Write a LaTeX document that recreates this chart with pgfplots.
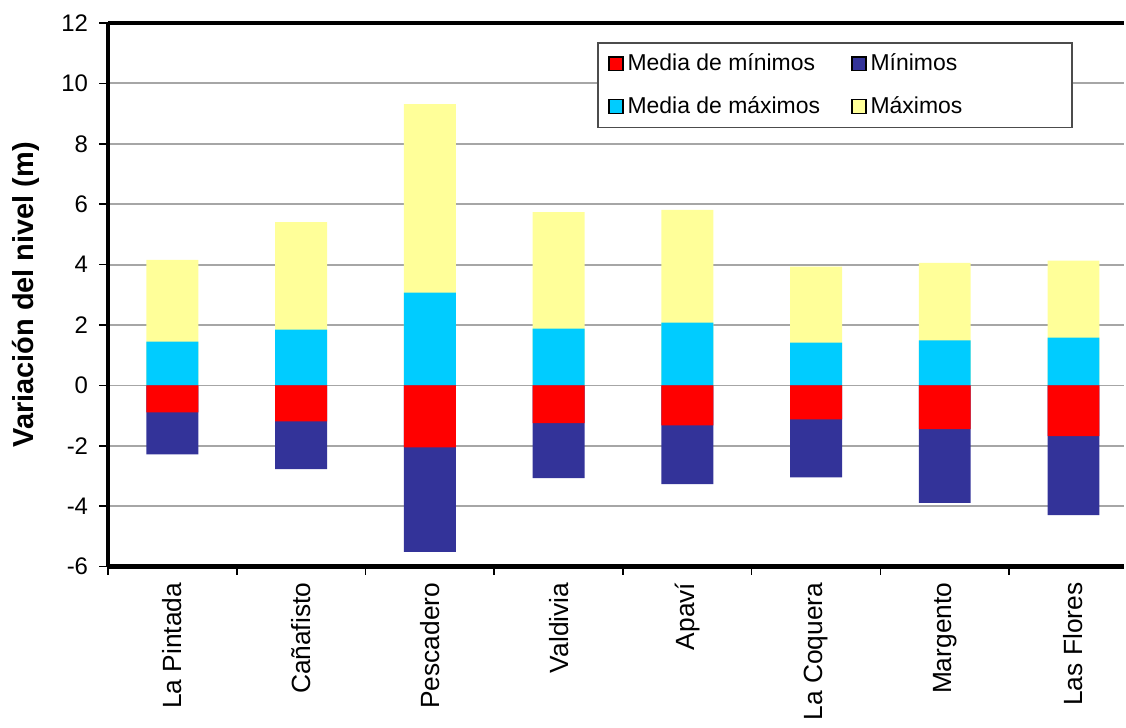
\documentclass[border=0pt]{standalone}
\usepackage{pgfplots}
\pgfplotsset{compat=1.18}
\usepackage{fontspec}
\setmainfont{Liberation Sans}
\definecolor{cmedmin}{HTML}{FF0000}
\definecolor{cmin}{HTML}{333399}
\definecolor{cmedmax}{HTML}{00CCFF}
\definecolor{cmax}{HTML}{FFFF99}
\definecolor{gridgray}{HTML}{A6A6A6}

\begin{document}
\begin{tikzpicture}
\begin{axis}[
  name=ax,
  scale only axis,
  width=509pt, height=272.5pt,
  xmin=-0.5, xmax=7.39,
  ymin=-6, ymax=12,
  ytick={-6,-4,...,12},
  axis x line*=box, axis y line*=left,
  xtick pos=bottom, ytick pos=left,
  axis line style={line width=2.3pt, black},
  ymajorgrids,
  grid style={gridgray, line width=0.9pt},
  tick align=outside,
  major tick length=4.5pt,
  xtick={0,...,7},
  xticklabels={La Pintada, Cañafisto, Pescadero, Valdivia, Apaví, La Coquera, Margento, Las Flores},
  major x tick style={draw=none},
  minor xtick={-0.5,0.5,...,6.5},
  minor tick length=4pt,
  minor x tick style={black, line width=0.8pt},
  major y tick style={black, line width=0.8pt},
  xticklabel style={rotate=90, anchor=east, font=\fontsize{13.2}{15}\selectfont},
  yticklabel style={font=\fontsize{12}{14}\selectfont, xshift=-2pt},
  /pgf/number format/assume math mode=true,
  ylabel={Variación del nivel (m)},
  ylabel style={font=\fontsize{14.5}{16}\selectfont\bfseries, inner ysep=6.3pt},
  ylabel shift=1pt,
  legend columns=2,
  legend image code/.code={\fill[#1] (0pt,-3.5pt) rectangle (7pt,3.5pt);},
  legend style={at={(0.95,0.965)}, anchor=north east, draw=black!70, line width=0.8pt,
    font=\fontsize{11.5}{13}\selectfont, row sep=7.5pt, inner xsep=5pt, inner ysep=3.5pt,
    /tikz/every even column/.append style={column sep=0pt}},
  legend cell align=left,
]
\addlegendimage{fill=cmedmin}
\addlegendentry{\makebox[110pt][l]{Media de mínimos}}
\addlegendimage{fill=cmin}
\addlegendentry{\makebox[94pt][l]{Mínimos}}
\addlegendimage{fill=cmedmax}
\addlegendentry{\makebox[110pt][l]{Media de máximos}}
\addlegendimage{fill=cmax}
\addlegendentry{\makebox[94pt][l]{Máximos}}

% Máximos (total height)
\addplot[ybar, bar width=26pt, bar shift=0pt, fill=cmax, draw=none, forget plot] coordinates {
  (0,4.16) (1,5.41) (2,9.31) (3,5.74) (4,5.81) (5,3.93) (6,4.06) (7,4.13)};
% Media de maximos
\addplot[ybar, bar width=26pt, bar shift=0pt, fill=cmedmax, draw=none, forget plot] coordinates {
  (0,1.45) (1,1.85) (2,3.07) (3,1.88) (4,2.08) (5,1.42) (6,1.49) (7,1.58)};
% Minimos (total depth)
\addplot[ybar, bar width=26pt, bar shift=0pt, fill=cmin, draw=none, forget plot] coordinates {
  (0,-2.28) (1,-2.77) (2,-5.51) (3,-3.07) (4,-3.27) (5,-3.04) (6,-3.89) (7,-4.29)};
% Media de minimos
\addplot[ybar, bar width=26pt, bar shift=0pt, fill=cmedmin, draw=none, forget plot] coordinates {
  (0,-0.89) (1,-1.19) (2,-2.05) (3,-1.25) (4,-1.32) (5,-1.12) (6,-1.45) (7,-1.68)};
\end{axis}
\path (ax.north west) ++(0,11.5pt);
\end{tikzpicture}
\end{document}
